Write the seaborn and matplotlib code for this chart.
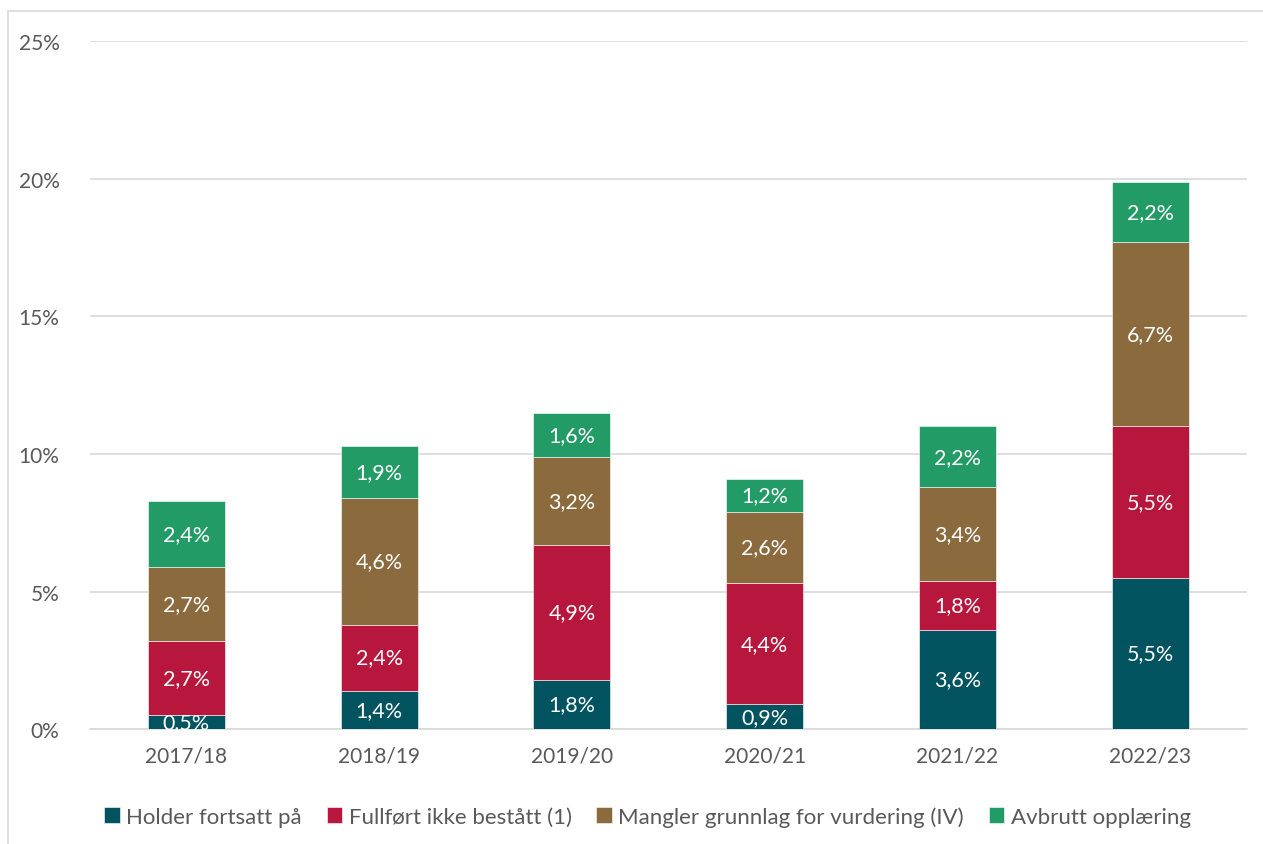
import matplotlib
matplotlib.use("Agg")
import matplotlib.pyplot as plt
from matplotlib.patches import Rectangle
import numpy as np
import seaborn as sns

years = ["2017/18", "2018/19", "2019/20", "2020/21", "2021/22", "2022/23"]
holder = [0.5, 1.4, 1.8, 0.9, 3.6, 5.5]
fullfort = [2.7, 2.4, 4.9, 4.4, 1.8, 5.5]
mangler = [2.7, 4.6, 3.2, 2.6, 3.4, 6.7]
avbrutt = [2.4, 1.9, 1.6, 1.2, 2.2, 2.2]
series_names = ["Holder fortsatt på", "Fullført ikke bestått (1)",
                "Mangler grunnlag for vurdering (IV)", "Avbrutt opplæring"]
colors = ["#00535F", "#B8173D", "#8B6B3D", "#229B66"]

sns.set_theme(style="white")
plt.rcParams["font.family"] = ["Lato", "DejaVu Sans"]

fig = plt.figure(figsize=(12.63, 8.45), dpi=100)
ax = fig.add_axes([0.0713, 0.136, 0.9157, 0.814])

# light frame around the chart area
fig.patches.append(Rectangle((8 / 1263, -0.01), 1.1, 1 - 12 / 845 + 0.01,
                             transform=fig.transFigure, fill=False,
                             edgecolor="#D9D9D9", lw=1.2, zorder=-1))

bottom = np.zeros(len(years))
for name, vals, c in zip(series_names, [holder, fullfort, mangler, avbrutt], colors):
    sns.barplot(x=years, y=vals, bottom=bottom, color=c, width=0.4,
                label=name, ax=ax, zorder=3, saturation=1,
                edgecolor="white", linewidth=0.4)
    for i, v in enumerate(vals):
        ax.text(i, bottom[i] + v / 2, f"{v:.1f}%".replace(".", ","),
                ha="center", va="center", color="white", fontsize=15.5, zorder=4)
    bottom += np.array(vals)

ax.set_ylim(0, 25)
ax.set_xlim(-0.5, len(years) - 0.5)
ax.set_yticks(range(0, 26, 5))
ax.set_yticklabels([f"{t}%" for t in range(0, 26, 5)])
ax.yaxis.grid(True, color="#D9D9D9", lw=1.2, zorder=0)
ax.tick_params(axis="both", length=0, labelsize=15, colors="#595959")
ax.tick_params(axis="y", pad=22)
ax.tick_params(axis="x", pad=12)
for s in ["top", "right", "left"]:
    ax.spines[s].set_visible(False)
ax.spines["bottom"].set_color("#D9D9D9")
ax.spines["bottom"].set_linewidth(1.2)
ax.set_xlabel("")
ax.set_ylabel("")

handles, labels = ax.get_legend_handles_labels()
leg = ax.legend(handles, labels, loc="upper center", bbox_to_anchor=(0.482, -0.083),
                ncol=4, frameon=False, fontsize=16, handlelength=0.7,
                handleheight=0.7, handletextpad=0.3, columnspacing=1.1)
for t in leg.get_texts():
    t.set_color("#595959")

fig.savefig("out.png", dpi=100)
